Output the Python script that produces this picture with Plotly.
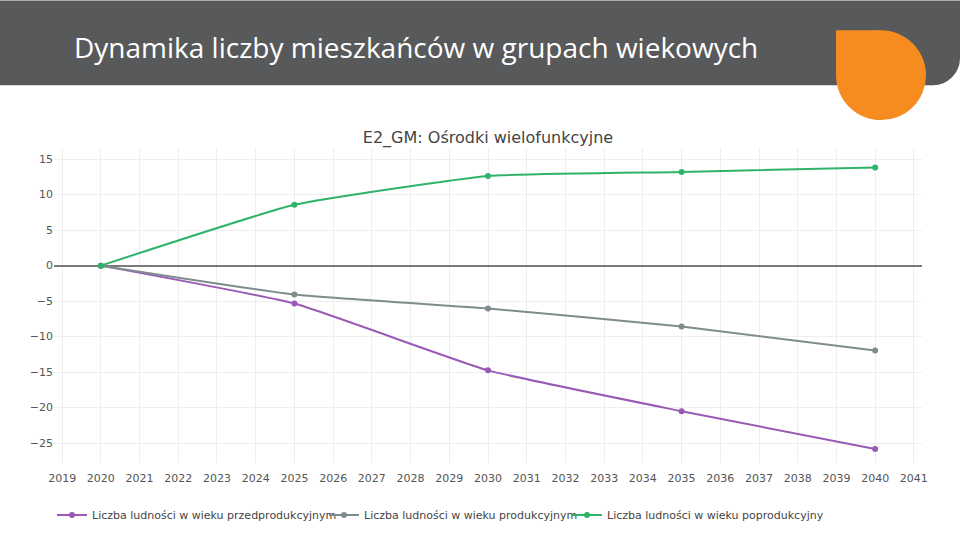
import plotly.graph_objects as go

years = [2020, 2025, 2030, 2035, 2040]
przedprodukcyjny = [0, -5.34, -14.75, -20.5, -25.84]
produkcyjny = [0, -4.07, -6.04, -8.57, -11.94]
poprodukcyjny = [0, 8.57, 12.64, 13.2, 13.83]

names = [
    "Liczba ludności w wieku przedprodukcyjnym",
    "Liczba ludności w wieku produkcyjnym",
    "Liczba ludności w wieku poprodukcyjny",
]
series = [przedprodukcyjny, produkcyjny, poprodukcyjny]
colors = ["#9b59b6", "#7f8c8d", "#2fb36a"]

slide_title = "Dynamika liczby mieszkańców w grupach wiekowych"
chart_title = "E2_GM: Ośrodki wielofunkcyjne"

W, H = 960, 540
L, R, T, B = 54, 922, 148, 464
PW, PH = R - L, B - T


def fx(px):
    return (px - L) / PW


def fy(py):
    return (B - py) / PH


fig = go.Figure()
legend_ids = ["legend", "legend2", "legend3"]
for name, vals, col, lg in zip(names, series, colors, legend_ids):
    fig.add_trace(go.Scatter(
        x=years, y=vals, name=name, mode="lines+markers",
        line=dict(color=col, width=2, shape="spline", smoothing=0.4),
        marker=dict(color=col, size=6),
        legend=lg, showlegend=True,
    ))

font_family = "DejaVu Sans"
legend_common = dict(orientation="h", yanchor="middle", y=fy(515),
                     xanchor="left", bgcolor="rgba(0,0,0,0)",
                     font=dict(family=font_family, size=11, color="#444"))

shapes = []
# gray header with rounded bottom-right corner
gray = "#58595b"
for (x0, y0, x1, y1) in [(0, 0, 933, 85), (933, 0, 960, 58)]:
    shapes.append(dict(type="rect", xref="paper", yref="paper",
                       x0=fx(x0), x1=fx(x1), y0=fy(y1), y1=fy(y0),
                       fillcolor=gray, line=dict(width=0)))
shapes.append(dict(type="circle", xref="paper", yref="paper",
                   x0=fx(906), x1=fx(960), y0=fy(85), y1=fy(31),
                   fillcolor=gray, line=dict(width=0)))
# orange drop
orange = "#f68b1f"
shapes.append(dict(type="circle", xref="paper", yref="paper",
                   x0=fx(836), x1=fx(926), y0=fy(120), y1=fy(30),
                   fillcolor=orange, line=dict(width=0)))
shapes.append(dict(type="rect", xref="paper", yref="paper",
                   x0=fx(836), x1=fx(881), y0=fy(75), y1=fy(30),
                   fillcolor=orange, line=dict(width=0)))

fig.update_layout(
    width=W, height=H,
    showlegend=True,
    margin=dict(l=L, r=W - R, t=T, b=H - B),
    paper_bgcolor="white", plot_bgcolor="white",
    font=dict(family=font_family, size=12, color="#444"),
    title=dict(text=chart_title, x=488 / W, xanchor="center",
               y=1 - 137 / H, yanchor="middle", yref="container",
               font=dict(family=font_family, size=16, color="#444")),
    xaxis=dict(range=[2018.79, 2041.21], dtick=1, tick0=2019,
               showgrid=True, gridcolor="#eeeeee", zeroline=False,
               showline=False, ticklabelstandoff=7,
               tickfont=dict(size=11, color="#555")),
    yaxis=dict(range=[-27.8, 16.57], dtick=5, tick0=0,
               showgrid=True, gridcolor="#eeeeee",
               zeroline=True, zerolinecolor="#7a7a7a", zerolinewidth=1.5,
               showline=False, tickfont=dict(size=11, color="#555")),
    legend=dict(x=fx(52), **legend_common),
    legend2=dict(x=fx(324), **legend_common),
    legend3=dict(x=fx(567), **legend_common),
    shapes=shapes,
    annotations=[dict(text=slide_title, xref="paper", yref="paper",
                      x=fx(72), y=fy(47), xanchor="left", yanchor="middle",
                      showarrow=False,
                      font=dict(family="Open Sans", size=28, color="white"))],
)

fig.write_html("out.html",
               config={"displayModeBar": False},
               post_script="document.body.style.margin='0';"
                           "document.body.style.overflow='hidden';")
